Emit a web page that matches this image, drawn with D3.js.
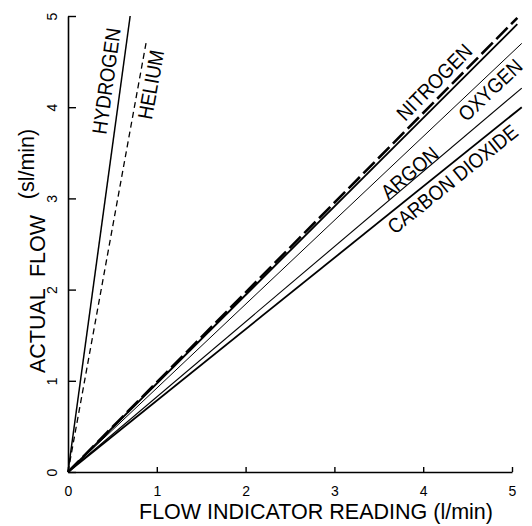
<!DOCTYPE html>
<html>
<head>
<meta charset="utf-8">
<script src="https://cdn.jsdelivr.net/npm/d3@7"></script>
<style>
  body { margin: 0; background: #fff; }
  svg { display: block; }
  text { font-family: "Liberation Sans", Arial, sans-serif; fill: #000; }
</style>
</head>
<body>
<div id="chart-area"></div>
<script>
// values
let gasNames   = ["HYDROGEN", "HELIUM", "NITROGEN", "", "OXYGEN", "ARGON", "CARBON DIOXIDE"];
let endReading = [0.70, 0.88, 5.06, 5.06, 5.11, 5.11, 5.11];   // l/min on the indicator
let endFlow    = [5.00, 4.71, 4.98, 4.91, 4.70, 4.21, 4.00];   // sl/min actual
let xTicks = [0, 1, 2, 3, 4, 5];
let yTicks = [0, 1, 2, 3, 4, 5];

// drawing styles, per line
let lineStyle = [
  {w: 1.5, dash: null},
  {w: 1.3, dash: "6,4"},
  {w: 2.6, dash: "16,5"},
  {w: 1.8, dash: null},
  {w: 1.0, dash: null},
  {w: 1.1, dash: null},
  {w: 1.8, dash: null}
];
// where the name sits: fraction along the line, offset across it (px)
let labelAt = [
  {t: 0.853, off: -15},
  {t: 0.907, off: 12},
  {t: 0.837, off: -14},
  null,
  {t: 0.912, off: 12},
  {t: 0.764, off: -8},
  {t: 0.830, off: 12.5}
];

const W = 532, H = 526;
const svg = d3.select("#chart-area").append("svg").attr("width", W).attr("height", H);

let x = d3.scaleLinear().domain([0, 5]).range([68, 512]);
let y = d3.scaleLinear().domain([0, 5]).range([472, 16]);

// axes, ticks pointing inward
let xAxis = svg.append("g").attr("transform", "translate(0,472)")
  .call(d3.axisBottom(x).tickValues(xTicks).tickFormat(d3.format("d"))
    .tickSizeInner(-5).tickSizeOuter(0).tickPadding(14));
let yAxis = svg.append("g").attr("transform", "translate(68,0)")
  .call(d3.axisLeft(y).tickValues(yTicks).tickFormat(d3.format("d"))
    .tickSizeInner(-8).tickSizeOuter(0).tickPadding(11));

[xAxis, yAxis].forEach(g=>{
  g.select(".domain").attr("stroke", "#000").attr("stroke-width", 1.6);
  g.selectAll(".tick line").attr("stroke", "#000").attr("stroke-width", 1.4);
  g.selectAll(".tick text").attr("font-size", 14).attr("font-family", null);
});
yAxis.selectAll(".tick text")
  .attr("x", null).attr("dy", null)
  .attr("text-anchor", "middle")
  .attr("transform", "translate(-11,0) rotate(-90)");

// calibration lines from the origin
let lineGen = d3.line().x(d=>x(d[0])).y(d=>y(d[1]));
gasNames.forEach((name, i)=>{
  let pts = [[0, 0], [endReading[i], endFlow[i]]];
  let st = lineStyle[i];
  svg.append("path").attr("d", lineGen(pts))
    .attr("fill", "none").attr("stroke", "#000")
    .attr("stroke-width", st.w)
    .attr("stroke-dasharray", st.dash);

  let lab = labelAt[i];
  if (!name || !lab) return;
  let x0 = x(0), y0 = y(0), x1 = x(endReading[i]), y1 = y(endFlow[i]);
  let px = x0 + (x1 - x0) * lab.t, py = y0 + (y1 - y0) * lab.t;
  let ang = Math.atan2(y1 - y0, x1 - x0) * 180 / Math.PI;
  svg.append("text")
    .attr("transform", `translate(${px},${py}) rotate(${ang}) translate(0,${lab.off}) scale(1,1.12)`)
    .attr("text-anchor", "middle").attr("dy", "0.36em")
    .attr("font-size", 18.5)
    .text(name);
});

// axis titles
svg.append("text")
  .attr("x", 316).attr("y", 519)
  .attr("text-anchor", "middle").attr("font-size", 21.5)
  .text("FLOW INDICATOR READING (l/min)");
svg.append("text")
  .attr("transform", "translate(45,294) rotate(-90)")
  .attr("text-anchor", "middle").attr("font-size", 21.5)
  .style("white-space", "pre")
  .text("ACTUAL  FLOW");
svg.append("text")
  .attr("transform", "translate(34,164) rotate(-90)")
  .attr("text-anchor", "middle").attr("font-size", 21.5)
  .text("(sl/min)");
</script>
</body>
</html>
